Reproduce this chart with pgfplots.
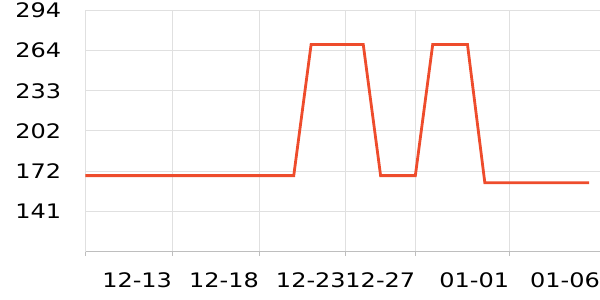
\documentclass[border=0pt]{standalone}
\usepackage{fontspec}
\setmainfont{DejaVu Sans}
\usepackage{pgfplots}
\pgfplotsset{compat=1.18}
\definecolor{lineC}{RGB}{238,76,44}
\definecolor{gridC}{RGB}{224,224,224}
\definecolor{axisC}{RGB}{190,190,190}
\newcommand{\sx}[1]{\scalebox{1.2}[1]{#1}}
\begin{document}
\begin{tikzpicture}
\begin{axis}[
  name=ax,
  scale only axis,
  width=514.7pt, height=241.4pt,
  xmin=0, xmax=29.63,
  ymin=110, ymax=294,
  axis lines*=left,
  axis line style={-},
  x axis line style={draw=axisC, line width=1pt},
  y axis line style={draw=gridC, line width=1pt},
  xtick={0,5,10,15,19,24.41,29.63},
  xticklabels={,\sx{12-13},\sx{12-18},\sx{12-23},\sx{12-27},\sx{01-01},\sx{01-06}},
  ytick={110,140.667,171.333,202,232.667,263.333,294},
  yticklabels={,\sx{141},\sx{172},\sx{202},\sx{233},\sx{264},\sx{294}},
  grid=major,
  major grid style={draw=gridC, line width=1pt},
  tick align=outside,
  major tick length=4pt,
  xtick style={draw=axisC, line width=1pt},
  ytick style={draw=none},
  ticklabel style={font=\fontsize{20}{24}\selectfont, text=black},
  xticklabel style={anchor=base, inner sep=0pt, yshift=-31.3pt, xshift=-35pt},
  yticklabel style={anchor=east, inner sep=0pt, xshift=-20pt},
]
\addplot[lineC, line width=2.8pt, line join=miter] coordinates {
(0,168)(1,168)(2,168)(3,168)(4,168)(5,168)(6,168)(7,168)(8,168)(9,168)(10,168)(11,168)(12,168)
(13,268)(14,268)(15,268)(16,268)
(17,168)(18,168)(19,168)
(20,268)(21,268)(22,268)
(23,162.6)(24,162.6)(25,162.6)(26,162.6)(27,162.6)(28,162.6)(29,162.6)
};
\end{axis}
\pgfresetboundingbox
\path[use as bounding box] (ax.south west) ++(-85.3pt,-48.3pt) rectangle ++(600pt,300pt);
\end{tikzpicture}
\end{document}
